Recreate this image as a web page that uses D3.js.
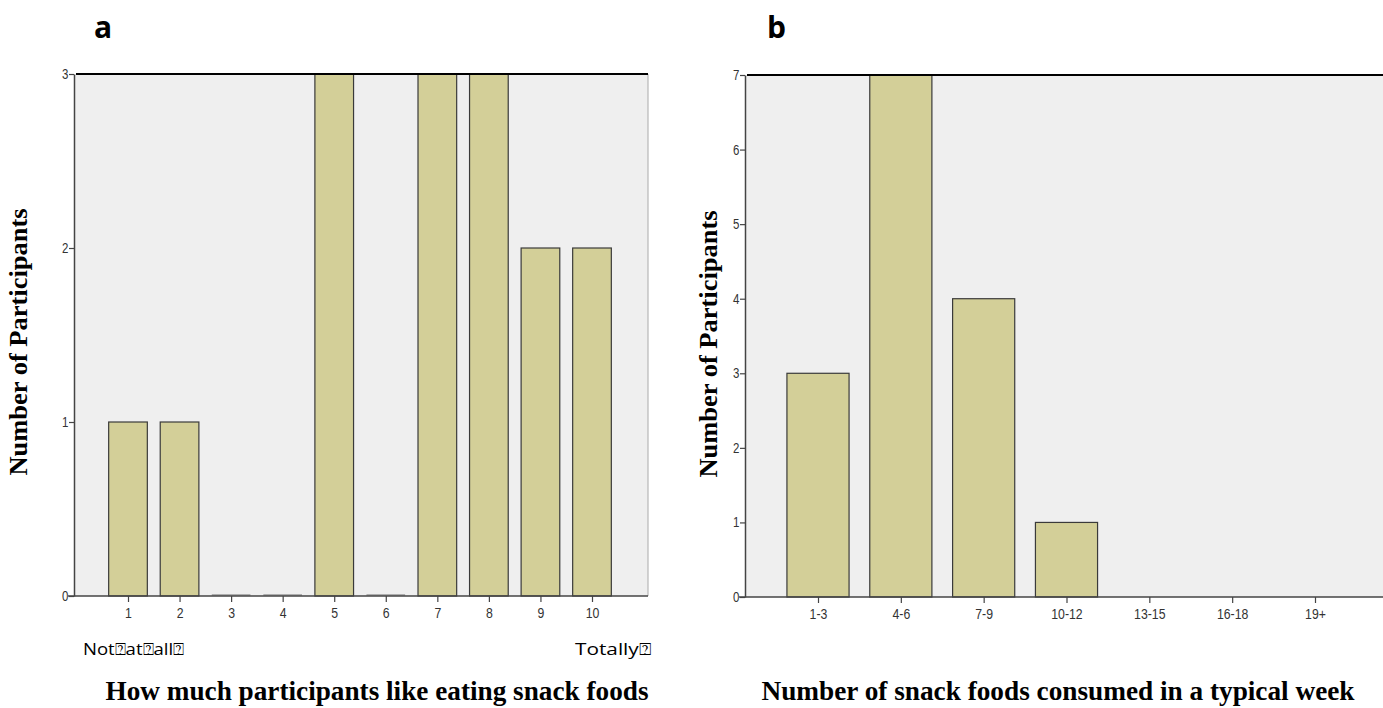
<!DOCTYPE html>
<html><head><meta charset="utf-8">
<script src="https://cdn.jsdelivr.net/npm/d3@7"></script>
<style>body{margin:0;background:#fff;overflow:hidden}</style>
</head><body>
<svg id="c" width="1383" height="708"></svg>
<script>
const catsA = ["1","2","3","4","5","6","7","8","9","10"];
const valsA = [1,1,0,0,3,0,3,3,2,2];
const ticksA = [0,1,2,3];
const catsB = ["1-3","4-6","7-9","10-12","13-15","16-18","19+"];
const valsB = [3,7,4,1,0,0,0];
const ticksB = [0,1,2,3,4,5,6,7];
const yTitle = "Number of Participants";
const xTitleA = "How much participants like eating snack foods";
const xTitleB = "Number of snack foods consumed in a typical week";
const anchorsA = ["Not\u2370at\u2370all\u2370", "Totally\u2370"];

const svg = d3.select("#c");
const tickFont = "'Liberation Sans Narrow','Liberation Sans',Arial,sans-serif";
const serif = "'Liberation Serif','Times New Roman',serif";

function panel(cfg){
  const g = svg.append("g");
  const x = d3.scalePoint().domain(cfg.cats).range([cfg.first, cfg.last]);
  const step = x.step();
  const y = d3.scaleLinear().domain([0, cfg.max]).range([cfg.bottom, cfg.top]);
  g.append("rect").attr("x", cfg.left).attr("y", cfg.top)
    .attr("width", cfg.right - cfg.left).attr("height", cfg.bottom - cfg.top)
    .attr("fill", "#efefef").attr("stroke","none");
  g.append("line").attr("x1", cfg.right).attr("x2", cfg.right).attr("y1", cfg.top).attr("y2", cfg.bottom)
    .attr("stroke","#aaa").attr("stroke-width",1);
  const bw = step * 0.75;
  cfg.cats.forEach((c,i)=>{
    const v = cfg.vals[i];
    if (v > 0) {
      g.append("rect").attr("x", x(c) - bw/2).attr("y", y(v))
        .attr("width", bw).attr("height", y(0) - y(v))
        .attr("fill", "#d3cf98").attr("stroke", "#3a3a3a").attr("stroke-width", 1.2);
    } else if (cfg.zeroLines) {
      g.append("line").attr("x1", x(c) - bw/2).attr("x2", x(c) + bw/2)
        .attr("y1", y(0) - 1).attr("y2", y(0) - 1).attr("stroke", "#999").attr("stroke-width", 1.5);
    }
  });
  g.append("line").attr("x1", cfg.left + 2).attr("x2", cfg.right).attr("y1", cfg.top).attr("y2", cfg.top)
    .attr("stroke","#000").attr("stroke-width",2);
  const ya = g.append("g").attr("transform", `translate(${cfg.left},0)`)
    .call(d3.axisLeft(y).tickValues(cfg.ticks).tickFormat(d3.format("d")).tickSize(5).tickSizeOuter(0));
  ya.select(".domain").attr("stroke","#444").attr("stroke-width",1.5);
  ya.selectAll(".tick line").attr("stroke","#444").attr("stroke-width",1.2);
  ya.selectAll(".tick text").attr("font-family", tickFont).attr("font-size", 14).attr("fill","#333")
    .attr("x",-7).attr("transform","scale(0.82,1)");
  const xa = g.append("g").attr("transform", `translate(0,${cfg.bottom})`)
    .call(d3.axisBottom(x).tickSize(6).tickSizeOuter(0));
  xa.select(".domain").attr("d", `M${cfg.left - 6},0H${cfg.right}`).attr("stroke","#444").attr("stroke-width",1.5);
  xa.selectAll(".tick line").attr("stroke","#444").attr("stroke-width",1.2);
  xa.selectAll(".tick text").attr("font-family", tickFont).attr("font-size", 15).attr("fill","#333")
    .attr("y", 11).attr("transform","scale(0.82,1)");
  g.append("text").attr("transform", `translate(${cfg.yTitleX},${cfg.yTitleY}) rotate(-90)`)
    .attr("text-anchor","middle").attr("font-family",serif)
    .attr("font-weight","bold").attr("font-size",26).attr("fill","#000")
    .attr("textLength", 267).attr("lengthAdjust","spacingAndGlyphs").text(yTitle);
  g.append("text").attr("x", cfg.xTitleX).attr("y", 700).attr("text-anchor","middle")
    .attr("font-family",serif).attr("font-weight","bold").attr("font-size",27).attr("fill","#000")
    .attr("textLength", cfg.xTitleW).attr("lengthAdjust","spacingAndGlyphs").text(cfg.xTitle);
  g.append("text").attr("x", cfg.letterX).attr("y", 38)
    .attr("font-family","'Open Sans','Liberation Sans',Arial,sans-serif").attr("font-weight","bold")
    .attr("font-size",30).attr("fill","#000").text(cfg.letter);
  return {x, y};
}

panel({cats: catsA, vals: valsA, ticks: ticksA, max: 3,
  left: 74, right: 648, top: 74, bottom: 596, first: 128, last: 592,
  zeroLines: true, yTitleX: 27, yTitleY: 342, xTitleX: 377, xTitleW: 543, xTitle: xTitleA, letter: "a", letterX: 94});

panel({cats: catsB, vals: valsB, ticks: ticksB, max: 7,
  left: 745, right: 1395, top: 75, bottom: 597, first: 818, last: 1315,
  zeroLines: false, yTitleX: 717, yTitleY: 344, xTitleX: 1058, xTitleW: 593, xTitle: xTitleB, letter: "b", letterX: 767});

svg.append("text").attr("x", 83).attr("y", 655).attr("font-family","'Open Sans','Liberation Sans',sans-serif")
  .attr("font-size",17).attr("fill","#000").attr("textLength",101).attr("lengthAdjust","spacingAndGlyphs").text(anchorsA[0]);
svg.append("text").attr("x", 575).attr("y", 655).attr("font-family","'Open Sans','Liberation Sans',sans-serif")
  .attr("font-size",17).attr("fill","#000").attr("textLength",76).attr("lengthAdjust","spacingAndGlyphs").text(anchorsA[1]);
</script>
</body></html>
